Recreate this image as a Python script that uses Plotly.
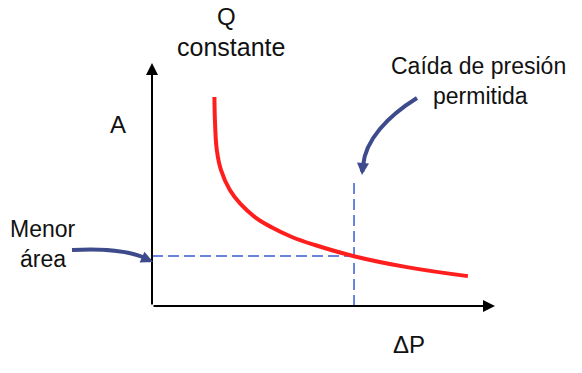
import plotly.graph_objects as go

# ---- data ----
delta_p = [1.82, 1.84, 1.89, 2.01, 2.27, 2.58, 3.00, 3.50, 4.08, 4.75, 5.86, 7.43, 9.21]
area = [8.60, 7.45, 6.42, 5.60, 4.77, 4.20, 3.66, 3.23, 2.84, 2.51, 2.06, 1.60, 1.23]
allowed_dp = 5.89
min_area = 2.06
axis_max_x = 10
axis_max_y = 10
guide_top = 5.06

labels_top = ["Q", "constante"]
label_y = "A"
label_x = "ΔP"
label_drop = ["Caída de presión", "permitida"]
label_min = ["Menor", "área"]

W, H = 582, 373
FONT = "Liberation Sans, Arial, sans-serif"
NAVY = "#3D4A8C"

# figure fills whole canvas; axis origin sits at pixel (152, 306)
ox, oy = 152, 306
x_range = [-ox / 34.3, (W - ox) / 34.3]
y_range = [(oy - H) / 24.3, oy / 24.3]


def px(x):
    return x / W


def py(y):
    return 1 - y / H


fig = go.Figure()

# dashed guides
fig.add_trace(go.Scatter(x=[0, allowed_dp], y=[min_area, min_area], mode="lines",
                         line=dict(color="#3A5BD6", width=1.5, dash="11px,5px"),
                         hoverinfo="skip"))
fig.add_trace(go.Scatter(x=[allowed_dp, allowed_dp], y=[0, guide_top], mode="lines",
                         line=dict(color="#3A5BD6", width=1.5, dash="11px,5px"),
                         hoverinfo="skip"))
# curve
fig.add_trace(go.Scatter(x=delta_p, y=area, mode="lines",
                         line=dict(color="#FF1E1E", width=4, shape="spline", smoothing=1.2),
                         hoverinfo="skip"))

annotations = []
# axes with arrowheads
annotations.append(dict(x=0, y=axis_max_y, ax=0, ay=0, xref="x", yref="y", axref="x", ayref="y",
                        text="", showarrow=True, arrowhead=2, arrowsize=1.2, arrowwidth=2,
                        arrowcolor="black", standoff=0, startstandoff=0))
annotations.append(dict(x=axis_max_x, y=0, ax=0, ay=0, xref="x", yref="y", axref="x", ayref="y",
                        text="", showarrow=True, arrowhead=2, arrowsize=1.2, arrowwidth=2,
                        arrowcolor="black", standoff=0, startstandoff=0))


def txt(s, x, y, size):
    annotations.append(dict(text=s, x=px(x), y=py(y), xref="paper", yref="paper",
                            showarrow=False, xanchor="center", yanchor="middle",
                            font=dict(family=FONT, size=size, color="#111111")))


txt(labels_top[0], 226, 16, 24)
txt(labels_top[1], 231, 47, 25)
txt(label_y, 117.5, 124, 24)
txt(label_x, 409, 344, 24)
txt(label_drop[0], 478, 66, 23)
txt(label_drop[1], 480, 96, 23)
txt(label_min[0], 43, 229, 23)
txt(label_min[1], 43, 259, 23)

# arrowheads of the curved pointer arrows (offsets in pixels)
annotations.append(dict(x=px(362), y=py(175), ax=1, ay=-12, xref="paper", yref="paper",
                        axref="pixel", ayref="pixel", text="", showarrow=True, arrowhead=2,
                        arrowsize=0.6, arrowwidth=4, arrowcolor=NAVY, standoff=0))
annotations.append(dict(x=px(153), y=py(262), ax=-9, ay=-4, xref="paper", yref="paper",
                        axref="pixel", ayref="pixel", text="", showarrow=True, arrowhead=2,
                        arrowsize=0.6, arrowwidth=4, arrowcolor=NAVY, standoff=0))

shapes = [
    dict(type="path", xref="paper", yref="paper",
         path=f"M{px(417)},{py(98)} C{px(388)},{py(116)} {px(365)},{py(140)} {px(363)},{py(166)}",
         line=dict(color=NAVY, width=4)),
    dict(type="path", xref="paper", yref="paper",
         path=f"M{px(72)},{py(250)} C{px(108)},{py(248)} {px(130)},{py(251)} {px(146)},{py(258.5)}",
         line=dict(color=NAVY, width=4)),
]

fig.update_layout(
    width=W, height=H, margin=dict(l=0, r=0, t=0, b=0),
    paper_bgcolor="white", plot_bgcolor="white", showlegend=False,
    xaxis=dict(range=x_range, visible=False, fixedrange=True),
    yaxis=dict(range=y_range, visible=False, fixedrange=True),
    annotations=annotations, shapes=shapes,
)

fig.write_html("out.html", config={"displayModeBar": False},
               post_script="document.body.style.margin='0';")
